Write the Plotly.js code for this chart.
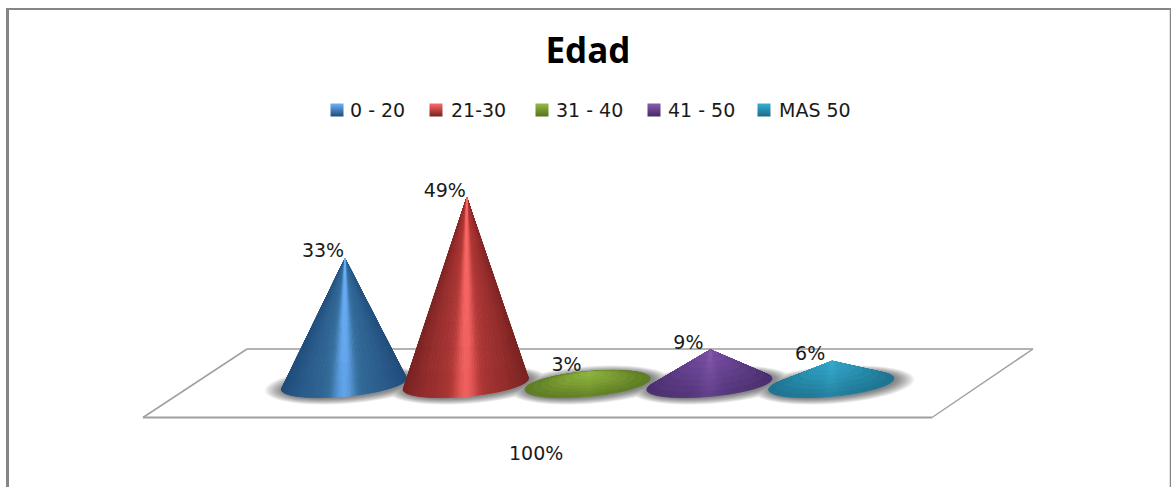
<!DOCTYPE html>
<html>
<head>
<meta charset="utf-8">
<script src="https://cdn.plot.ly/plotly-3.0.1.min.js"></script>
<style>html,body{margin:0;padding:0;background:#fff;overflow:hidden}#chart{width:1171px;height:487px}</style>
</head>
<body>
<div id="chart"></div>
<script>
// ---- data ----
const chartTitle = 'Edad';
const categories = ['0 - 20', '21-30', '31 - 40', '41 - 50', 'MAS 50'];
const values = [33, 49, 3, 9, 6];
const axisCategory = '100%';
const darkColors = ['#1f4a78', '#762120', '#55721f', '#442a66', '#1a6a86'];
const midColors = ['#36709f', '#b53a38', '#7a9c34', '#6a4594', '#2b93b4'];
const lightColors = ['#6db2ff', '#ff6a68', '#93bb42', '#8a5cb0', '#38afd2'];

// ---- layout constants (page pixels) ----
const W = 1171, H = 487;
const originX = 344, stepX = 121.8, baseY = 384, pxPerUnit = 3.8;
const radiusX = 62.5, radiusY = 12.5, tilt = 5.5;
const legendSwatchX = [337, 436, 542, 654, 764];
const legendTextX = [350, 451, 556, 668, 779];
const legendY = 110;
const labelOffsetX = -21, labelOffsetY = -3.5;
const LEVELS = 48, SLICES = 180, RINGS = 8;

const dataX = px => (px - originX) / stepX;
const dataY = py => (baseY - py) / pxPerUnit;
const paperX = px => px / W;
const paperY = py => 1 - py / H;

function hex(c) { return [1, 3, 5].map(i => parseInt(c.substr(i, 2), 16)); }
function mix(a, b, f) { return a.map((v, i) => v + (b[i] - v) * f); }
function shade(i, v) {
  const d = hex(darkColors[i]), m = hex(midColors[i]), l = hex(lightColors[i]);
  const c = v < 0.5 ? mix(d, m, v * 2) : mix(m, l, (v - 0.5) * 2);
  return 'rgb(' + c.map(Math.round).join(',') + ')';
}
function rim(i, t) {
  return [i + radiusX / stepX * Math.cos(t),
          (radiusY * Math.sin(t) + tilt * Math.cos(t)) / pxPerUnit];
}

const traces = [];

// soft shadow under the cones
const SHADOW_LAYERS = 18;
for (let s = 0; s < SHADOW_LAYERS; s++) {
  const f = 1 - s / SHADOW_LAYERS;
  const xs = [], ys = [];
  values.forEach((_, i) => {
    for (let k = 0; k <= 60; k++) {
      const t = k / 60 * 2 * Math.PI;
      const p = rim(i, t);
      xs.push(p[0] + (2 + 19 * f * Math.cos(t)) / stepX);
      ys.push(p[1] + (-1 + 6.5 * f * Math.sin(t)) / pxPerUnit);
    }
    xs.push(null); ys.push(null);
  });
  traces.push({type: 'scatter', mode: 'none', x: xs, y: ys, fill: 'toself',
    fillcolor: 'rgba(0,0,0,0.03)', hoverinfo: 'skip', showlegend: false});
}

// cones, left to right so that each one sits in front of the previous
values.forEach((value, i) => {
  const buckets = Array.from({length: LEVELS}, () => ({x: [], y: []}));
  const apex = [i + 1 / stepX, value];
  const heightPx = value * pxPerUnit;
  const w = Math.min(1, heightPx / 100);
  for (let k = 0; k < SLICES; k++) {
    const t0 = k / SLICES * 2 * Math.PI, t1 = (k + 1) / SLICES * 2 * Math.PI;
    const p0 = rim(i, t0), p1 = rim(i, t1);
    // screen-space orientation: keep only the surface facing the viewer
    const cross = ((p0[0] - apex[0]) * stepX) * ((p1[1] - apex[1]) * pxPerUnit) -
                  ((p0[1] - apex[1]) * pxPerUnit) * ((p1[0] - apex[0]) * stepX);
    if (cross < 0) continue;
    const u = Math.cos((t0 + t1) / 2);
    for (let r = 0; r < RINGS; r++) {
      const r0 = r / RINGS, r1 = (r + 1) / RINGS, rm = (r0 + r1) / 2;
      const tall = 0.12 + 0.36 * (1 - u * u) + 0.5 * Math.exp(-Math.pow(u / 0.2, 2)) - 0.1 * rm;
      const low = 0.12 + 0.85 * Math.pow(1 - rm, 1.2);
      const v = Math.max(0, Math.min(1, w * tall + (1 - w) * low));
      const b = buckets[Math.min(LEVELS - 1, Math.floor(v * LEVELS))];
      const q = (p, rr) => [apex[0] + (p[0] - apex[0]) * rr, apex[1] + (p[1] - apex[1]) * rr];
      const a = q(p0, r0), c = q(p1, r0), d = q(p1, r1), e = q(p0, r1);
      b.x.push(a[0], c[0], d[0], e[0], a[0], null);
      b.y.push(a[1], c[1], d[1], e[1], a[1], null);
    }
  }
  buckets.forEach((b, l) => {
    if (!b.x.length) return;
    const col = shade(i, (l + 0.5) / LEVELS);
    traces.push({type: 'scatter', mode: 'lines', x: b.x, y: b.y, fill: 'toself', fillcolor: col,
      line: {color: col, width: 0.8}, hoverinfo: 'skip', showlegend: false, name: categories[i]});
  });
});

// value labels
traces.push({type: 'scatter', mode: 'text',
  x: values.map((_, i) => i + labelOffsetX / stepX),
  y: values.map(v => v + labelOffsetY / pxPerUnit),
  text: values.map(v => v + '%'),
  textposition: 'top center',
  textfont: {family: 'DejaVu Sans', size: 19, color: '#1a1a1a'},
  hoverinfo: 'skip', showlegend: false});

// legend swatches
categories.forEach((c, i) => {
  traces.push({type: 'scatter', mode: 'markers',
    x: [dataX(legendSwatchX[i])], y: [dataY(legendY)], name: c,
    marker: {symbol: 'square', size: 13, color: lightColors[i],
      gradient: {type: 'vertical', color: darkColors[i]}, line: {width: 0}},
    hoverinfo: 'skip', showlegend: false});
});

const annotations = categories.map((c, i) => ({
  xref: 'paper', yref: 'paper', x: paperX(legendTextX[i]), y: paperY(legendY),
  xanchor: 'left', yanchor: 'middle', showarrow: false, text: c,
  font: {family: 'DejaVu Sans', size: 19, color: '#1a1a1a'}, xshift: -2
}));
annotations.push({xref: 'paper', yref: 'paper', x: paperX(536), y: paperY(453),
  xanchor: 'center', yanchor: 'middle', showarrow: false, text: axisCategory,
  font: {family: 'DejaVu Sans', size: 19, color: '#1a1a1a'}});

function line(x0, y0, x1, y1, color, width) {
  return {type: 'line', xref: 'paper', yref: 'paper', x0: paperX(x0), y0: paperY(y0),
    x1: paperX(x1), y1: paperY(y1), line: {color, width}, layer: 'below'};
}
const shapes = [
  line(7.5, 9, 7.5, H, '#868686', 3),
  line(6, 9, 1171, 9, '#868686', 2),
  line(1170.5, 9, 1170.5, H, '#868686', 1.5),
  line(143, 417.5, 932, 417.5, '#a0a0a0', 2),
  line(247, 349, 1033, 349, '#9a9a9a', 1.5),
  line(143, 417.5, 247, 349, '#a0a0a0', 1.5),
  line(932, 417.5, 1033, 349, '#a0a0a0', 1.5)
];

const layout = {
  width: W, height: H, margin: {l: 0, r: 0, t: 0, b: 0},
  paper_bgcolor: '#fff', plot_bgcolor: '#fff', showlegend: false, hovermode: false,
  title: {text: '<b>' + chartTitle + '</b>', x: paperX(588), xref: 'paper', xanchor: 'center',
    y: paperY(51), yref: 'paper', yanchor: 'middle',
    font: {family: 'Open Sans', size: 35, color: '#000'}},
  xaxis: {range: [dataX(0), dataX(W)], visible: false, fixedrange: true},
  yaxis: {range: [dataY(H), dataY(0)], visible: false, fixedrange: true},
  shapes, annotations
};
Plotly.newPlot('chart', traces, layout, {displayModeBar: false, staticPlot: true});
</script>
</body>
</html>
